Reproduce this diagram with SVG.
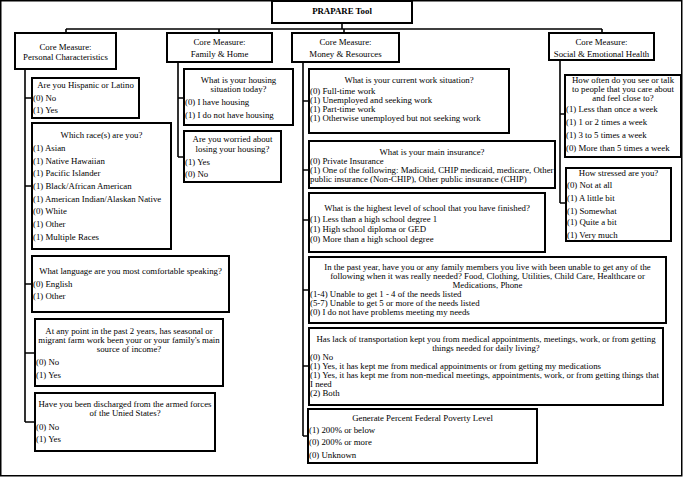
<svg xmlns="http://www.w3.org/2000/svg" width="684" height="478" viewBox="0 0 684 478">
<style>
text{font-family:"Liberation Serif","Times New Roman",serif;font-size:8.8px;fill:#000}
.c{text-anchor:middle}
.b{font-weight:bold}
rect.n{fill:#fff;stroke:#000;stroke-width:2}
#connectors path{fill:none;stroke:#000;stroke-width:1.6}
</style>
<rect x="0.75" y="0.75" width="681" height="475" fill="#fff" stroke="#000" stroke-width="1.5"/>
<g id="connectors">
<path d="M342 23V29M66 29H602M66 29V33M219 29V33M344 29V33M602 29V33"/>
<path d="M25 69V422M25 98H32M25 186H32M25 284H32M25 353H35M25 422H35"/>
<path d="M178 62V157M178 98H184M178 157H184"/>
<path d="M303 62V436M303 101H309M303 170H309M303 220H309M303 290H309M303 366H309M303 436H308"/>
<path d="M560 60V203M560 114H565M560 203H566"/>
</g>
<g id="title"><rect class="n" x="272" y="1" width="140" height="22"/><text class="c b" x="342" y="14">PRAPARE Tool</text></g>
<g id="core-personal"><rect class="n" x="15" y="33" width="101" height="36"/><text class="c" x="65.5" y="49.5">Core Measure:</text><text class="c" x="65.5" y="59.5">Personal Characteristics</text></g>
<g id="core-family"><rect class="n" x="167" y="33" width="105" height="29"/><text class="c" x="219.5" y="45">Core Measure:</text><text class="c" x="219.5" y="57">Family &amp; Home</text></g>
<g id="core-money"><rect class="n" x="292" y="33" width="107" height="29"/><text class="c" x="345.5" y="45">Core Measure:</text><text class="c" x="345.5" y="57">Money &amp; Resources</text></g>
<g id="core-social"><rect class="n" x="549" y="33" width="105" height="27"/><text class="c" x="601.5" y="44.5">Core Measure:</text><text class="c" x="601.5" y="56.5">Social &amp; Emotional Health</text></g>

<g id="q-hispanic"><rect class="n" x="32" y="78" width="107" height="40"/><text class="c" x="85.5" y="88">Are you Hispanic or Latino</text><text x="33" y="101">(0) No</text><text x="33" y="113">(1) Yes</text></g>
<g id="q-race"><rect class="n" x="32" y="123" width="139" height="126"/><text class="c" x="101.5" y="138">Which race(s) are you?</text><text x="33" y="151">(1) Asian</text><text x="33" y="164">(1) Native Hawaiian</text><text x="33" y="176">(1) Pacific Islander</text><text x="33" y="189">(1) Black/African American</text><text x="33" y="202">(1) American Indian/Alaskan Native</text><text x="33" y="214">(0) White</text><text x="33" y="227">(1) Other</text><text x="33" y="240">(1) Multiple Races</text></g>
<g id="q-language"><rect class="n" x="32" y="256" width="197" height="56"/><text class="c" x="130.5" y="274">What language are you most comfortable speaking?</text><text x="33" y="287">(0) English</text><text x="33" y="299">(1) Other</text></g>
<g id="q-seasonal"><rect class="n" x="35" y="319" width="188" height="67"/><text class="c" x="129" y="334">At any point in the past 2 years, has seasonal or</text><text class="c" x="129" y="343">migrant farm work been your or your family's main</text><text class="c" x="129" y="352">source of income?</text><text x="36" y="365">(0) No</text><text x="36" y="378">(1) Yes</text></g>
<g id="q-armed"><rect class="n" x="35" y="393" width="180" height="58"/><text class="c" x="125" y="407">Have you been discharged from the armed forces</text><text class="c" x="125" y="416">of the Unied States?</text><text x="36" y="430">(0) No</text><text x="36" y="442">(1) Yes</text></g>

<g id="q-housing"><rect class="n" x="184" y="69" width="109" height="56"/><text class="c" x="238.5" y="83">What is your housing</text><text class="c" x="238.5" y="92">situation today?</text><text x="185" y="105">(0) I have housing</text><text x="185" y="118">(1) I do not have housing</text></g>
<g id="q-worried"><rect class="n" x="184" y="131" width="97" height="51"/><text class="c" x="232.5" y="142">Are you worried about</text><text class="c" x="232.5" y="152">losing your housing?</text><text x="185" y="165">(1) Yes</text><text x="185" y="177">(0) No</text></g>

<g id="q-work"><rect class="n" x="309" y="69" width="200" height="64"/><text class="c" x="409" y="83">What is your current work situation?</text><text x="310" y="94">(0) Full-time work</text><text x="310" y="103">(1) Unemployed and seeking work</text><text x="310" y="112">(1) Part-time work</text><text x="310" y="121">(1) Otherwise unemployed but not seeking work</text></g>
<g id="q-insurance"><rect class="n" x="309" y="141" width="246" height="47"/><text class="c" x="432" y="155">What is your main insurance?</text><text x="310" y="164">(0) Private Insurance</text><text x="310" y="173">(1) One of the following: Madicaid, CHIP medicaid, medicare, Other</text><text x="310" y="182">public insurance (Non-CHIP), Other public insurance (CHIP)</text></g>
<g id="q-school"><rect class="n" x="309" y="193" width="236" height="59"/><text class="c" x="427" y="211">What is the highest level of school that you have finished?</text><text x="310" y="222">(1) Less than a high school degree 1</text><text x="310" y="232">(1) High school diploma or GED</text><text x="310" y="242">(0) More than a high school degree</text></g>
<g id="q-needs"><rect class="n" x="309" y="257" width="357" height="66"/><text class="c" x="487.5" y="270">In the past year, have you or any family members you live with been unable to get any of the</text><text class="c" x="487.5" y="279">following when it was really needed? Food, Clothing, Utilities, Child Care, Healthcare or</text><text class="c" x="487.5" y="288">Medications, Phone</text><text x="310" y="297">(1-4) Unable to get 1 - 4 of the needs listed</text><text x="310" y="306">(5-7) Unable to get 5 or more of the needs listed</text><text x="310" y="315">(0) I do not have problems meeting my needs</text></g>
<g id="q-transport"><rect class="n" x="309" y="328" width="354" height="77"/><text class="c" x="486" y="342">Has lack of transportation kept you from medical appointments, meetings, work, or from getting</text><text class="c" x="486" y="351">things needed for daily living?</text><text x="310" y="360">(0) No</text><text x="310" y="369">(1) Yes, it has kept me from medical appointments or from getting my medications</text><text x="310" y="378">(1) Yes, it has kept me from non-medical meetings, appointments, work, or from getting things that</text><text x="310" y="387">I need</text><text x="310" y="396">(2) Both</text></g>
<g id="q-poverty"><rect class="n" x="308" y="409" width="229" height="54"/><text class="c" x="422.5" y="421">Generate Percent Federal Poverty Level</text><text x="309" y="433">(1) 200% or below</text><text x="309" y="445">(0) 200% or more</text><text x="309" y="458">(0) Unknown</text></g>

<g id="q-often"><rect class="n" x="565" y="75" width="116" height="82"/><text class="c" x="623" y="82.5">How often do you see or talk</text><text class="c" x="623" y="91.5">to people that you care about</text><text class="c" x="623" y="100.5">and feel close to?</text><text x="566" y="112">(1) Less than once a week</text><text x="566" y="125">(1) 1 or 2 times a week</text><text x="566" y="138">(1) 3 to 5 times a week</text><text x="566" y="151">(0) More than 5 times a week</text></g>
<g id="q-stressed"><rect class="n" x="566" y="168" width="105" height="73"/><text class="c" x="618.5" y="176">How stressed are you?</text><text x="567" y="188">(0) Not at all</text><text x="567" y="201">(1) A little bit</text><text x="567" y="214">(1) Somewhat</text><text x="567" y="225">(1) Quite a bit</text><text x="567" y="238">(1) Very much</text></g>
</svg>
